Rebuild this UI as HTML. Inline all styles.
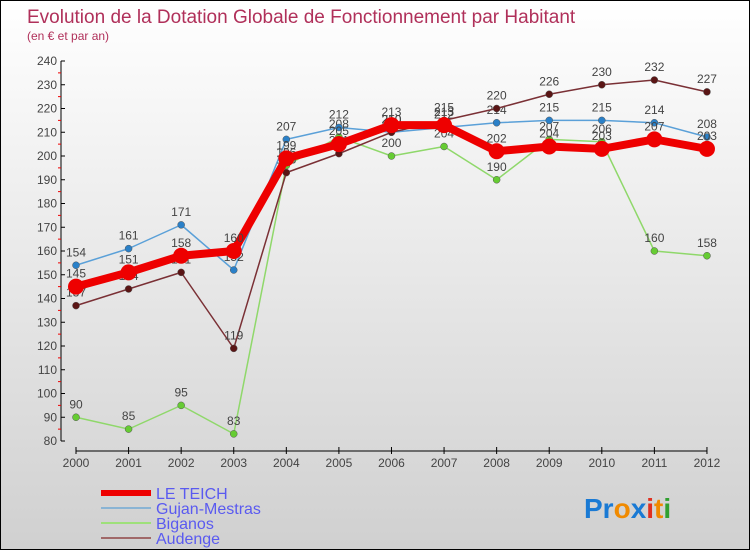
<!DOCTYPE html>
<html><head><meta charset="utf-8"><style>
body{margin:0}
#c{position:relative;width:750px;height:550px;box-sizing:border-box;border:1px solid #000;background:linear-gradient(#ffffff,#d0d0d0);font-family:"Liberation Sans",sans-serif;overflow:hidden}
</style></head><body>
<div id="c">
<svg id="s" width="750" height="550" style="position:absolute;left:0;top:0">
<text x="26" y="22" font-size="19" fill="#b0305a">Evolution de la Dotation Globale de Fonctionnement par Habitant</text>
<text x="26" y="39" font-size="12" fill="#b0305a">(en € et par an)</text>
<g id="axes"></g><g id="series"></g><g id="legend"></g>
<text x="583" y="517" font-size="28" font-weight="bold"><tspan fill="#1a7ad4">Pr</tspan><tspan fill="#f08a00">o</tspan><tspan fill="#1a7ad4">x</tspan><tspan fill="#e03020">i</tspan><tspan fill="#f08a00">t</tspan><tspan fill="#30a030">i</tspan></text>
</svg>
</div>
<script>
const years=[2000,2001,2002,2003,2004,2005,2006,2007,2008,2009,2010,2011,2012];
const yTicks=[80,90,100,110,120,130,140,150,160,170,180,190,200,210,220,230,240];
const teich=[145,151,158,160,199,205,213,213,202,204,203,207,203];
const gujan=[154,161,171,152,207,212,210,212,214,215,215,214,208];
const biganos=[90,85,95,83,196,208,200,204,190,207,206,160,158];
const audenge=[137,144,151,119,193,201,210,215,220,226,230,232,227];
const NS="http://www.w3.org/2000/svg";
const X=i=>75+i*52.58;
const Y=v=>440-(v-80)*2.375;
function mk(p,tag,a){const e=document.createElementNS(NS,tag);for(const k in a)e.setAttribute(k,a[k]);p.appendChild(e);return e;}
const ax=document.getElementById('axes');
let yl=mk(ax,'line',{x1:60,y1:60,x2:60,y2:440,stroke:'#000'});


yTicks.forEach(v=>{
 mk(ax,'line',{x1:60,y1:Y(v),x2:64,y2:Y(v),stroke:'#000'});
 if(v<240)mk(ax,'line',{x1:57,y1:Y(v+5),x2:60,y2:Y(v+5),stroke:'#e00'});
 const t=mk(ax,'text',{x:56,y:Y(v)+4,'font-size':12,fill:'#444','text-anchor':'end'});t.textContent=v;
 
 
});
let xl=mk(ax,'line',{x1:X(0),y1:450,x2:X(12),y2:450,stroke:'#000'});


years.forEach((y,i)=>{
 mk(ax,'line',{x1:X(i),y1:446,x2:X(i),y2:453,stroke:'#000'});
 const t=mk(ax,'text',{x:X(i),y:466,'font-size':12,fill:'#444','text-anchor':'middle'});t.textContent=y;
 
 
});
const sg=document.getElementById('series');
const defs=[[biganos,'#8fd86a','#66cc33',1.5,3.5,'biganos'],[gujan,'#5aa0d8','#2a80c8',1.5,3.5,'gujan-mestras'],[audenge,'#7a3035','#5a1515',1.5,3.5,'audenge'],[teich,'#ee0000','#ee0000',8,8,'le-teich']];
defs.forEach(([d,c,pc,w,r,n])=>{
 const g=mk(sg,'g',{});
 
 
 const pl=mk(g,'polyline',{points:d.map((v,i)=>X(i)+','+Y(v)).join(' '),fill:'none',stroke:c,'stroke-width':w,'stroke-linejoin':'round'});
 
 
 d.forEach((v,i)=>{
  const p=mk(g,'circle',{cx:X(i),cy:Y(v),r:r,fill:pc,stroke:n=='le-teich'?'none':'#555','stroke-width':0.5});
  
  
  const t=mk(g,'text',{x:X(i),y:Y(v)-9,'font-size':12,fill:'#444','text-anchor':'middle'});t.textContent=v;
  
  
 });
});
const lg=document.getElementById('legend');
const names=[['LE TEICH','#ee0000',6],['Gujan-Mestras','#8ab4d4',2],['Biganos','#9ee07a',2],['Audenge','#a06868',2]];
names.forEach(([n,c,w],i)=>{
 const y=492+i*15;
 const l=mk(lg,'line',{x1:100,y1:y,x2:150,y2:y,stroke:c,'stroke-width':w});
 
 
 const t=mk(lg,'text',{x:155,y:y+6,'font-size':16,fill:'#5a5af0'});t.textContent=n;
 
 
});
</script>
</body></html>
